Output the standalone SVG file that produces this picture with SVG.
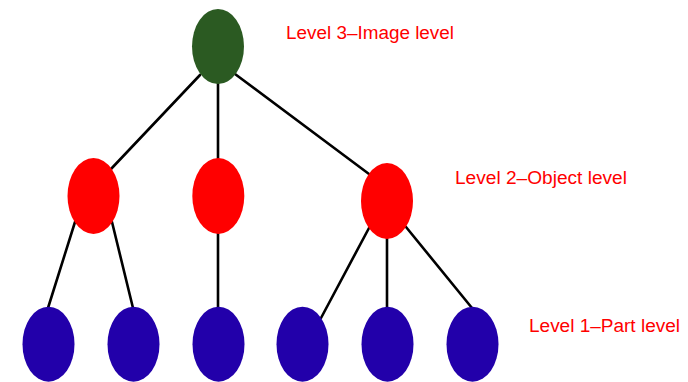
<svg xmlns="http://www.w3.org/2000/svg" width="688" height="382" viewBox="0 0 688 382">
<style>
.edge{stroke:#000;stroke-width:2.6;fill:none;stroke-linecap:round}
.l3{fill:#2b5a22}
.l2{fill:#ff0000}
.l1{fill:#2200aa}
.lbl{font-family:"Liberation Sans",Arial,sans-serif;font-size:18px;fill:#ff0000}
</style>
<rect width="688" height="382" fill="#fff"/>
<g id="connectors">
<line class="edge" x1="200" y1="75" x2="111" y2="169"/>
<line class="edge" x1="218" y1="80" x2="218" y2="162"/>
<line class="edge" x1="235" y1="74" x2="369" y2="174"/>
<line class="edge" x1="75" y1="222" x2="48" y2="308"/>
<line class="edge" x1="112" y1="222" x2="133" y2="308"/>
<line class="edge" x1="218" y1="230" x2="218" y2="310"/>
<line class="edge" x1="369" y1="228" x2="321" y2="318"/>
<line class="edge" x1="387" y1="235" x2="387" y2="310"/>
<line class="edge" x1="406" y1="227" x2="472" y2="308"/>
</g>
<g id="n-image"><ellipse class="l3" cx="218" cy="46.5" rx="26" ry="37.5"/></g>
<g id="n-obj1"><ellipse class="l2" cx="93.5" cy="196" rx="26" ry="38"/></g>
<g id="n-obj2"><ellipse class="l2" cx="218.3" cy="196" rx="26" ry="38"/></g>
<g id="n-obj3"><ellipse class="l2" cx="387" cy="201" rx="26" ry="38"/></g>
<g id="n-part1"><ellipse class="l1" cx="48.5" cy="344.2" rx="26" ry="37.5"/></g>
<g id="n-part2"><ellipse class="l1" cx="133.5" cy="344.2" rx="26" ry="37.5"/></g>
<g id="n-part3"><ellipse class="l1" cx="218.5" cy="344.2" rx="26" ry="37.5"/></g>
<g id="n-part4"><ellipse class="l1" cx="302.5" cy="344.2" rx="26" ry="37.5"/></g>
<g id="n-part5"><ellipse class="l1" cx="387.5" cy="344.2" rx="26" ry="37.5"/></g>
<g id="n-part6"><ellipse class="l1" cx="472.5" cy="344.2" rx="26" ry="37.5"/></g>
<g id="labels">
<text class="lbl" x="286" y="39" textLength="168" lengthAdjust="spacingAndGlyphs">Level 3–Image level</text>
<text class="lbl" x="455" y="184" textLength="172" lengthAdjust="spacingAndGlyphs">Level 2–Object level</text>
<text class="lbl" x="529" y="332" textLength="151" lengthAdjust="spacingAndGlyphs">Level 1–Part level</text>
</g>
</svg>
